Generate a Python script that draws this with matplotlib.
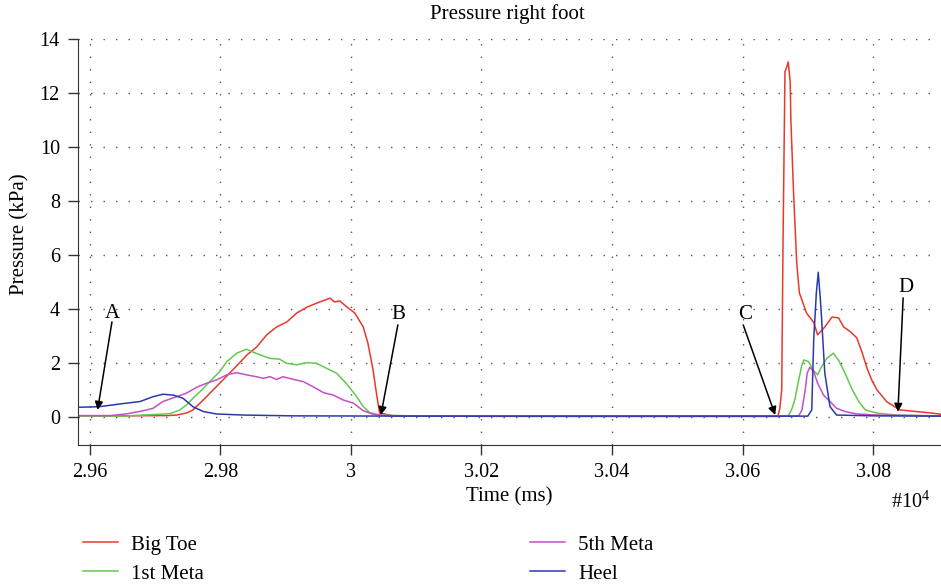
import numpy as np
import matplotlib.pyplot as plt

plt.rcParams['font.family'] = ['Liberation Serif', 'DejaVu Serif']
plt.rcParams['mathtext.fontset'] = 'custom'
plt.rcParams['mathtext.rm'] = 'Liberation Serif'

# Time in units of 1e4 ms, pressure in kPa
big_toe_t = [2.9582, 2.9650, 2.9720, 2.9733, 2.9749, 2.9758, 2.9774, 2.9789, 2.9804, 2.9819,
             2.9841, 2.9856, 2.9871, 2.9886, 2.9902, 2.9917, 2.9933, 2.9948, 2.9968, 2.9975,
             2.9983, 2.9994, 3.0006, 3.0019, 3.0026, 3.0034, 3.0040, 3.0044, 3.0064, 3.0300,
             3.0535, 3.0654, 3.0657, 3.0660, 3.0662, 3.0665, 3.0667, 3.0670, 3.0673, 3.0674,
             3.0678, 3.0683, 3.0687, 3.0698, 3.0709, 3.0715, 3.0721, 3.0726, 3.0737, 3.0747,
             3.0755, 3.0765, 3.0775, 3.0783, 3.0790, 3.0798, 3.0806, 3.0821, 3.0841, 3.0887,
             3.0904]
big_toe_p = [0.04, 0.04, 0.05, 0.07, 0.15, 0.26, 0.63, 1.0, 1.37, 1.74,
             2.3, 2.6, 3.04, 3.33, 3.52, 3.85, 4.07, 4.22, 4.4, 4.26,
             4.3, 4.07, 3.85, 3.33, 2.74, 1.74, 0.74, 0.15, 0.04, 0.03,
             0.03, 0.03, 0.3, 1.0, 6.5, 12.8, 12.9, 13.15, 12.4, 11.0,
             8.4, 5.7, 4.6, 3.85, 3.5, 3.04, 3.2, 3.33, 3.7, 3.67,
             3.33, 3.16, 2.93, 2.4, 1.85, 1.36, 1.0, 0.56, 0.26, 0.15,
             0.1]

meta1_t = [2.9582, 2.9650, 2.9723, 2.9738, 2.9748, 2.9758, 2.9769, 2.9784, 2.9799, 2.9810,
           2.9825, 2.9840, 2.9848, 2.9861, 2.9876, 2.9891, 2.9901, 2.9917, 2.9932, 2.9947,
           2.9963, 2.9978, 2.9993, 3.0009, 3.0019, 3.0029, 3.0044, 3.0100, 3.0400, 3.0654,
           3.0670, 3.0675, 3.0680, 3.0686, 3.0691, 3.0694, 3.0701, 3.0708, 3.0715, 3.0721,
           3.0729, 3.0739, 3.0747, 3.0757, 3.0767, 3.0778, 3.0788, 3.0806, 3.0836, 3.0904]
meta1_p = [0.03, 0.03, 0.12, 0.26, 0.44, 0.69, 0.94, 1.31, 1.68, 2.05,
           2.36, 2.51, 2.42, 2.3, 2.17, 2.14, 1.99, 1.93, 2.01, 1.99,
           1.8, 1.62, 1.24, 0.75, 0.38, 0.16, 0.07, 0.03, 0.02, 0.02,
           0.04, 0.26, 0.63, 1.37, 1.93, 2.11, 2.05, 1.74, 1.56, 1.86,
           2.17, 2.36, 2.11, 1.62, 1.06, 0.57, 0.26, 0.14, 0.07, 0.03]

meta5_t = [2.9582, 2.9631, 2.9656, 2.9682, 2.9697, 2.9712, 2.9733, 2.9748, 2.9764, 2.9779,
           2.9794, 2.9810, 2.9825, 2.9840, 2.9855, 2.9866, 2.9876, 2.9886, 2.9896, 2.9912,
           2.9927, 2.9942, 2.9958, 2.9973, 2.9988, 3.0004, 3.0019, 3.0034, 3.0055, 3.0200,
           3.0500, 3.0654, 3.0686, 3.0691, 3.0696, 3.0699, 3.0703, 3.0709, 3.0715, 3.0724,
           3.0734, 3.0744, 3.0757, 3.0775, 3.0806, 3.0904]
meta5_p = [0.05, 0.05, 0.11, 0.23, 0.32, 0.57, 0.75, 0.88, 1.1, 1.25,
           1.37, 1.56, 1.64, 1.56, 1.49, 1.43, 1.49, 1.39, 1.49, 1.39,
           1.31, 1.12, 0.9, 0.81, 0.63, 0.51, 0.23, 0.1, 0.05, 0.02,
           0.02, 0.02, 0.04, 0.26, 1.0, 1.62, 1.84, 1.68, 1.25, 0.81,
           0.57, 0.32, 0.2, 0.11, 0.07, 0.04]

heel_t = [2.9582, 2.9585, 2.9615, 2.9646, 2.9677, 2.9697, 2.9712, 2.9728, 2.9743, 2.9758,
          2.9774, 2.9794, 2.9835, 2.9912, 3.0100, 3.0400, 3.0654, 3.0700, 3.0706, 3.0709,
          3.0713, 3.0716, 3.0720, 3.0726, 3.0734, 3.0744, 3.0800, 3.0904]
heel_p = [0.37, 0.36, 0.38, 0.48, 0.57, 0.75, 0.84, 0.81, 0.69, 0.38,
          0.2, 0.11, 0.07, 0.04, 0.03, 0.03, 0.03, 0.03, 0.26, 2.85,
          4.58, 5.36, 4.09, 1.62, 0.38, 0.07, 0.04, 0.03]

labels = ['Big Toe', '1st Meta', '5th Meta', 'Heel']
colors = ['#e8392b', '#62c94e', '#c44fc6', '#2b3aa8']

# annotation letters: (text position, arrow tail, arrow tip)
marks = ['A', 'B', 'C', 'D']
mark_text = [(2.9635, 3.85), (3.0072, 3.78), (3.0604, 3.81), (3.0851, 4.78)]
mark_tail = [(2.9634, 3.52), (3.0072, 3.41), (3.0601, 3.41), (3.0846, 4.41)]
mark_tip = [(2.9612, 0.26), (3.0046, 0.07), (3.0650, 0.07), (3.0838, 0.19)]

fig = plt.figure(figsize=(9.41, 5.86), dpi=100)
ax = fig.add_axes([0.0829, 0.2406, 0.9171, 0.6928])

series = [(big_toe_t, big_toe_p), (meta1_t, meta1_p), (meta5_t, meta5_p), (heel_t, heel_p)]
handles = []
for (t, p), lab, c in zip(series, labels, colors):
    h, = ax.plot(t, p, color=c, lw=1.1, label=lab)
    handles.append(h)

for m, tx, tl, tp in zip(marks, mark_text, mark_tail, mark_tip):
    ax.text(tx[0], tx[1], m, ha='center', va='center', fontsize=15)
    ax.annotate('', xy=tp, xytext=tl,
                arrowprops=dict(arrowstyle='-|>', color='black', lw=1.1,
                                mutation_scale=12, shrinkA=0, shrinkB=0))

ax.set_xlim(2.9582, 3.0904)
ax.set_ylim(-1.04, 14.0)
ax.set_xticks([2.96, 2.98, 3.00, 3.02, 3.04, 3.06, 3.08])
ax.set_xticklabels(['2.96', '2.98', '3', '3.02', '3.04', '3.06', '3.08'])
ax.set_yticks(range(0, 15, 2))
ax.tick_params(labelsize=14.5, length=7, width=1, color='#333333', pad=6)
ax.grid(True, color='#555555', linestyle=(0, (1, 8)), linewidth=1)
for s in ['top', 'right']:
    ax.spines[s].set_visible(False)
for s in ['left', 'bottom']:
    ax.spines[s].set_color('#333333')

ax.set_xlabel('Time (ms)', fontsize=15)
ax.xaxis.set_label_coords(0.5, -(487 - 445) / 406)
ax.set_ylabel('Pressure (kPa)', fontsize=15)
ax.yaxis.set_label_coords(-(78 - 29) / 863, (445 - 234) / 406)
fig.text(507 / 941, 1 - 14 / 586, 'Pressure right foot', ha='center', va='center', fontsize=15)
fig.text(911 / 941, 1 - 502 / 586, r'#$\mathregular{10^4}$', ha='center', va='center', fontsize=14.5)

leg_kw = dict(frameon=False, fontsize=15, handlelength=1.7, handletextpad=0.6,
              labelspacing=0.45, borderpad=0, borderaxespad=0, loc='upper left')
fig.legend(handles[:2], labels[:2], bbox_to_anchor=(83 / 941, 1 - 535 / 586), **leg_kw)
fig.legend(handles[2:], labels[2:], bbox_to_anchor=(530 / 941, 1 - 535 / 586), **leg_kw)

fig.savefig('out.png', dpi=100)
